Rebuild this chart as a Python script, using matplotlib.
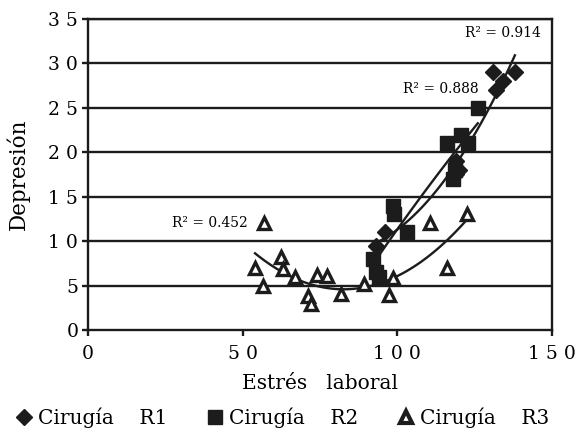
import matplotlib.pyplot as plt
from matplotlib.lines import Line2D
import numpy as np

# data
r1_x = [93, 96, 119, 120, 119, 131, 132, 134, 138]
r1_y = [9.5, 11, 19, 18, 17.5, 29, 27, 28, 29]

r2_x = [92, 93, 94, 98.5, 99, 103, 116, 120.5, 123, 118, 118.5, 126]
r2_y = [8, 6.5, 6, 14, 13, 11, 21, 22, 21, 17, 18, 25]

r3_x = [54, 56.8, 56.5, 62.3, 63, 66.8, 71, 72, 74, 77.2, 81.7, 89.1, 97.2, 98.5, 110.4, 115.9, 122.4]
r3_y = [7, 12, 5, 8.2, 6.9, 6, 3.8, 2.9, 6.2, 6.1, 4, 5.2, 3.9, 5.9, 12, 7, 13]

r2_labels = ["R\u00b2 = 0.914", "R\u00b2 = 0.888", "R\u00b2 = 0.452"]
x_ticks = [0, 50, 100, 150]
x_tick_labels = ["0", "5 0", "1 0 0", "1 5 0"]
y_ticks = [0, 5, 10, 15, 20, 25, 30, 35]
y_tick_labels = ["0", "5", "1 0", "1 5", "2 0", "2 5", "3 0", "3 5"]
names = ["Cirugía    R1", "Cirugía    R2", "Cirugía    R3"]

plt.rcParams['font.family'] = ['DejaVu Serif']
ink = '#1c1c1c'

fig = plt.figure(figsize=(5.85, 4.33), dpi=100)
ax = fig.add_axes([0.1504, 0.2379, 0.7932, 0.7182])

for y in y_ticks[1:]:
    ax.axhline(y, color=ink, lw=1.7, zorder=1)


def trend(ax, xs, ys):
    c = np.polyfit(xs, ys, 2)
    xx = np.linspace(min(xs), max(xs), 100)
    ax.plot(xx, np.polyval(c, xx), color=ink, lw=1.7, zorder=3)


ax.plot(r1_x, r1_y, 'D', ms=8, color=ink, ls='none', zorder=4)
ax.plot(r2_x, r2_y, 's', ms=9.5, color=ink, ls='none', zorder=4)
ax.plot(r3_x, r3_y, '^', ms=8.5, mfc='white', mec=ink, mew=2.4, ls='none', zorder=4)

trend(ax, r1_x, r1_y)
trend(ax, r2_x, r2_y)
trend(ax, r3_x, r3_y)

ax.text(146.3, 33.4, r2_labels[0], ha='right', va='center', fontsize=10, zorder=5)
ax.text(126.3, 27.1, r2_labels[1], ha='right', va='center', fontsize=10, zorder=5)
ax.text(51.7, 12.05, r2_labels[2], ha='right', va='center', fontsize=10, zorder=5)

ax.set_xlim(0, 150)
ax.set_ylim(0, 35)
ax.set_xticks(x_ticks)
ax.set_xticklabels(x_tick_labels, fontsize=13.5)
ax.set_yticks(y_ticks)
ax.set_yticklabels(y_tick_labels, fontsize=13.5)
ax.tick_params(direction='out', length=4, width=1.7, color=ink)
ax.tick_params(axis='x', pad=7)
ax.tick_params(axis='y', pad=3)
for s in ax.spines.values():
    s.set_linewidth(1.7)
    s.set_color(ink)

ax.set_xlabel("Estrés   laboral", fontsize=14.5)
ax.xaxis.set_label_coords(0.5, -0.14)
ax.set_ylabel("Depresión", fontsize=15.5)
ax.yaxis.set_label_coords(-0.125, 0.5)

handles = [
    Line2D([], [], marker='D', ms=8, color=ink, ls='none'),
    Line2D([], [], marker='s', ms=9.5, color=ink, ls='none'),
    Line2D([], [], marker='^', ms=9, mfc='white', mec=ink, mew=3, ls='none'),
]
fig.legend(handles, names, loc='lower left', bbox_to_anchor=(15 / 585, 5 / 433),
           ncol=3, frameon=False, fontsize=14.5, handletextpad=0.25,
           handlelength=0.9, columnspacing=1.9, borderpad=0, borderaxespad=0)

fig.savefig("out.png", dpi=100)
